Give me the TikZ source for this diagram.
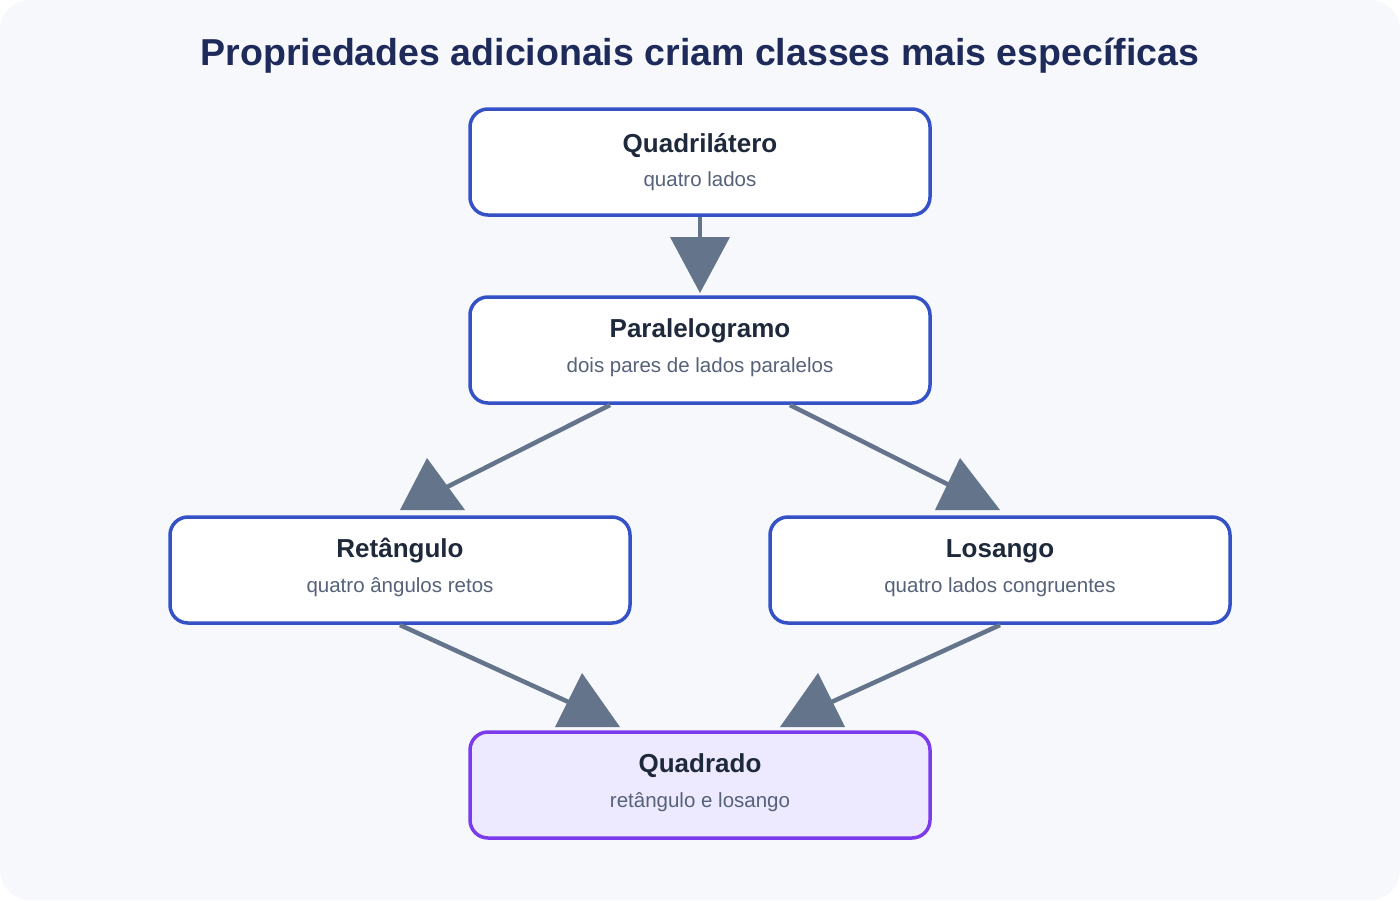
\documentclass[tikz,border=0pt]{standalone}
\usepackage{fontspec}
\setmainfont{Liberation Sans}
\usetikzlibrary{calc}
\definecolor{bg}{HTML}{F6F8FC}
\definecolor{blueb}{HTML}{3451C6}
\definecolor{purb}{HTML}{7C3AED}
\definecolor{purf}{HTML}{EDE9FE}
\definecolor{arr}{HTML}{64748B}
\definecolor{ttl}{HTML}{1E2A5A}
\definecolor{hd}{HTML}{1E293B}
\definecolor{sub}{HTML}{55627A}
\begin{document}
\begin{tikzpicture}[x=1pt,y=-1pt,
  box/.style={draw=blueb,line width=3.5pt,fill=white,rounded corners=18pt,minimum width=460pt,minimum height=106pt,align=center,inner sep=0pt},
  sq/.style={box,draw=purb,fill=purf},
  hdt/.style={font=\bfseries\fontsize{26}{30}\selectfont,text=hd},
  sbt/.style={font=\fontsize{20.5}{24}\selectfont,text=sub},
  con/.style={draw=arr,line width=4.5pt},
  tip/.style={fill=arr}]
\fill[bg,rounded corners=30pt] (0,0) rectangle (1400,900);
\useasboundingbox (0,0) rectangle (1400,900);
\node[font=\bfseries\fontsize{37.5}{44}\selectfont,text=ttl] (title) at (700,56) {Propriedades adicionais criam classes mais específicas};
\node[box] (q) at (700,162) {};
\node[hdt] (qt) at (700,146) {Quadrilátero};
\node[sbt] (qs) at (700,181) {quatro lados};
\node[box] (p) at (700,350) {};
\node[hdt] (pt) at (700,331) {Paralelogramo};
\node[sbt] (ps) at (700,367) {dois pares de lados paralelos};
\node[box] (r) at (400,570) {};
\node[hdt] (rt) at (400,551) {Retângulo};
\node[sbt] (rs) at (400,587) {quatro ângulos retos};
\node[box] (l) at (1000,570) {};
\node[hdt] (lt) at (1000,551) {Losango};
\node[sbt] (ls) at (1000,587) {quatro lados congruentes};
\coordinate (pl) at (610,405); \coordinate (pr) at (790,405);
\coordinate (rb) at (400,625); \coordinate (lb) at (1000,625);
\coordinate (e1) at (700,245); \coordinate (e2) at (445,488); \coordinate (e3) at (955,488);
\coordinate (e4) at (575,705); \coordinate (e5) at (825,705);
\draw[con] (q.south) -- (e1);
\draw[con] (pl) -- (e2);
\draw[con] (pr) -- (e3);
\draw[con] (rb) -- (e4);
\draw[con] (lb) -- (e5);
\fill[tip] (670,237) -- (730,237) -- (700,293) -- cycle;
\fill[tip] (400,510) -- (465,510) -- (427,458) -- cycle;
\fill[tip] (935,510) -- (1000,510) -- (960,458) -- cycle;
\fill[tip] (555,727) -- (620,727) -- (582,673) -- cycle;
\fill[tip] (780,727) -- (845,727) -- (818,673) -- cycle;
\node[sq] (s) at (700,785) {};
\node[hdt] (st) at (700,766) {Quadrado};
\node[sbt] (ss) at (700,802) {retângulo e losango};
\end{tikzpicture}
\end{document}
